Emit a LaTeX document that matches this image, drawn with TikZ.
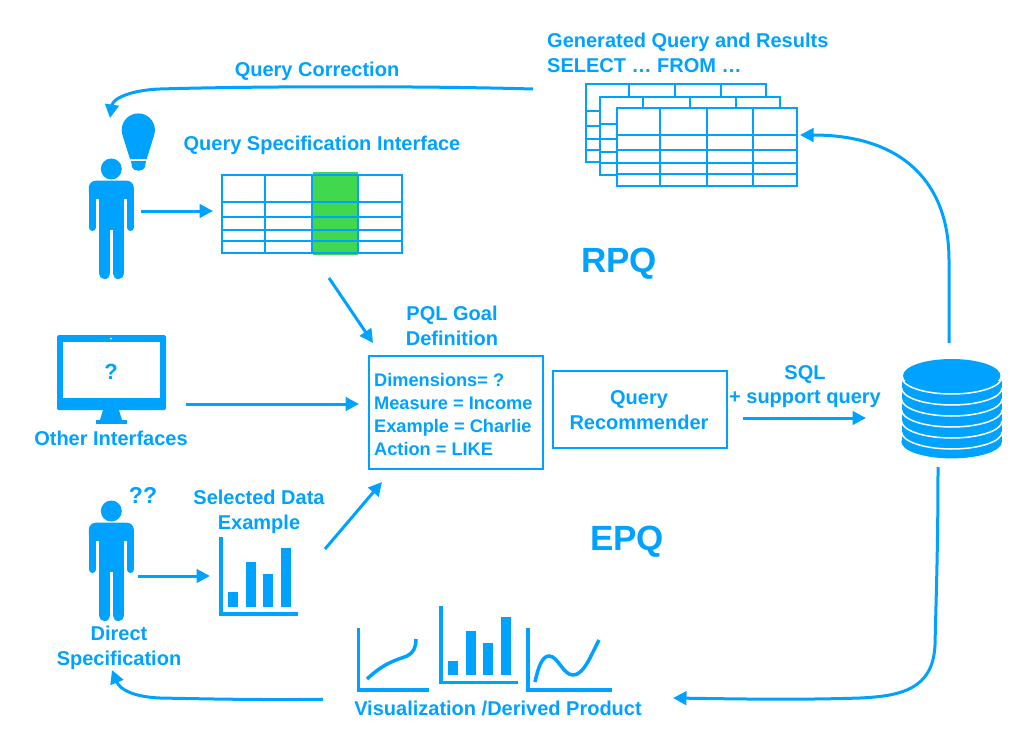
\documentclass[tikz,border=0pt]{standalone}
\usepackage{fontspec}
\setmainfont{Liberation Sans}
\usetikzlibrary{arrows.meta}
\definecolor{appblue}{HTML}{00A2FF}
\definecolor{cellgreen}{HTML}{41D84E}
\tikzset{
  lbl/.style={text=appblue,font=\bfseries\fontsize{20}{22}\selectfont,inner sep=0pt,text height=16pt,text depth=2pt},
  lblleft/.style={lbl,anchor=west},
  smalll/.style={lblleft,font=\bfseries\fontsize{18.2}{20}\selectfont},
  bigl/.style={text=appblue,font=\bfseries\fontsize{35}{38}\selectfont,inner sep=0pt,text height=26pt,text depth=0pt},
  conn/.style={draw=appblue,line width=3pt,-{Triangle[length=13.5pt,width=13.5pt]}},
  boxed/.style={draw=appblue,line width=2pt,inner sep=0pt,outer sep=0pt,anchor=north west},
  grid/.style={draw=appblue,line width=2pt},
  axisl/.style={draw=appblue,line width=3.4pt},
  curvel/.style={draw=appblue,line width=3.5pt},
  icon/.style={fill=appblue},
}
\newcommand{\tbl}[3]{%
  \begin{scope}[shift={(#1,#2)}]
    \fill[#3] (0,0) rectangle (180,78);
    \draw[grid] (0,0) rectangle (180,78);
    \foreach \xx in {43,89.5,135.5} \draw[grid] (\xx,0) -- (\xx,78);
    \foreach \yy in {27,41.5,55,66} \draw[grid] (0,\yy) -- (180,\yy);
  \end{scope}}
\newcommand{\person}[2]{%
  \begin{scope}[shift={(#1,#2)}]
    \fill[icon] (0,0) circle (10.5);
    \fill[icon,rounded corners=7pt] (-22.5,30) |- (22.5,11.7) -- (22.5,30) -- cycle;
    \fill[icon] (-12.5,20) rectangle (12.5,61);
    \draw[appblue,line width=7pt,line cap=round] (-19,22) -- (-19,58.5);
    \draw[appblue,line width=7pt,line cap=round] (19,22) -- (19,58.5);
    \draw[appblue,line width=11.2pt,line cap=round] (-6.7,55) -- (-6.7,104.5);
    \draw[appblue,line width=11.2pt,line cap=round] (7.1,55) -- (7.1,104.5);
  \end{scope}}
\newcommand{\barchart}[2]{%
  \begin{scope}[shift={(#1,#2)}]
    \draw[axisl] (221,537.3) -- (221,614) -- (298,614);
    \fill[icon] (228,592) rectangle (238,606.7);
    \fill[icon] (246,562) rectangle (256,606.7);
    \fill[icon] (263.3,574) rectangle (273.3,606.7);
    \fill[icon] (281,548) rectangle (291,606.7);
  \end{scope}}
\begin{document}
\begin{tikzpicture}[x=1pt,y=-1pt]
\useasboundingbox (0,0) rectangle (1010,739);
% tables
\tbl{585.5}{84}{white}
\tbl{600}{97}{white}
\tbl{617}{108}{white}
\fill[cellgreen] (312.5,172) rectangle (358,255);
\tbl{222}{175}{white,opacity=0}
% persons
\person{111.3}{169}
\person{111.3}{511}
% bulb
\fill[icon] (138.3,130) circle (16.6);
\fill[icon] (122.6,135.5) -- (154,135.5) -- (146.7,159) -- (130,159) -- cycle;
\fill[icon] (131,161) -- (146,161) -- (145,167) .. controls (144,172) and (133,172) .. (132,167) -- cycle;
% monitor
\fill[icon,rounded corners=1.5pt] (57,335) rectangle (166,410);
\fill[white] (62.7,342) rectangle (160,398);
\fill[white] (111,338.5) circle (1);
\fill[icon] (103,410) -- (119,410) -- (122,420) -- (100,420) -- cycle;
\fill[icon] (96,420) rectangle (127,424);
% database
\fill[icon] (901.5,381) rectangle (1002,441.7);
\fill[icon] (951.7,441.7) ellipse[x radius=50.3,y radius=16.7];
\foreach \ii in {0,1,...,5}
  \draw[white,line width=1.5pt] (901.5,377+11*\ii) arc[start angle=180,end angle=0,x radius=50.3,y radius=17];
\fill[icon] (951.7,375.7) ellipse[x radius=48.7,y radius=16.7];
% charts
\barchart{0}{0}
\barchart{220}{68.5}
\draw[axisl] (358.3,628) -- (358.3,690) -- (429,690);
\draw[axisl] (528,628) -- (528,690) -- (612,690);
\draw[curvel] (367,679) .. controls (385,662) and (397,660) .. (407,656) .. controls (413,653) and (416,648) .. (416,639);
\draw[curvel] (535,682) .. controls (538,668) and (542,656) .. (549,656) .. controls (558,656) and (563,675) .. (573,675) .. controls (584,675) and (591,655) .. (599,640);
% boxes
\node[boxed,minimum width=174pt,minimum height=113pt] (goal) at (369,356) {};
\node[boxed,minimum width=174pt,minimum height=77pt] (rec) at (553,371) {};
% labels
\node[lblleft] (gen1) at (547,40) {Generated Query and Results};
\node[lblleft] (gen2) at (547,65) {SELECT … FROM …};
\node[lbl] (corr) at (317,69) {Query Correction};
\node[lbl] (spec) at (322,143) {Query Specification Interface};
\node[bigl] (rpq) at (619,259) {RPQ};
\node[bigl] (epq) at (627,537) {EPQ};
\node[lbl] (pql1) at (452,313) {PQL Goal};
\node[lbl] (pql2) at (452,338) {Definition};
\node[smalll] (d1) at (374,379) {Dimensions= ?};
\node[smalll] (d2) at (374,402) {Measure = Income};
\node[smalll] (d3) at (374,425) {Example = Charlie};
\node[smalll] (d4) at (374,448) {Action = LIKE};
\node[lbl] (r1) at (639,397) {Query};
\node[lbl] (r2) at (639,422) {Recommender};
\node[lbl] (sql1) at (805,372) {SQL};
\node[lbl] (sql2) at (805,396) {+ support query};
\node[lbl] (oth) at (111,438) {Other Interfaces};
\node[lbl,font=\bfseries\fontsize{22}{24}\selectfont] (qm) at (111,372) {?};
\node[lbl,font=\bfseries\fontsize{23}{25}\selectfont] (qq) at (143,496) {??};
\node[lbl] (sel1) at (259,497) {Selected Data};
\node[lbl] (sel2) at (259,522) {Example};
\node[lbl] (dir1) at (119,633) {Direct};
\node[lbl] (dir2) at (119,658) {Specification};
\node[lbl] (vis) at (498,708) {Visualization /Derived Product};
% connector ends
\coordinate (a1) at (533,89);   \coordinate (a2) at (110,118);
\coordinate (b1) at (141,211);  \coordinate (b2) at (213,211);
\coordinate (c1) at (329,278);  \coordinate (c2) at (373,343);
\coordinate (d1c) at (186,404); \coordinate (d2c) at (359,404);
\coordinate (e1) at (325,549);  \coordinate (e2) at (382,482);
\coordinate (f1) at (138,576);  \coordinate (f2) at (210,576);
\coordinate (g1) at (743,418);  \coordinate (g2) at (866,418);
\coordinate (h1) at (949,343);  \coordinate (h2) at (800,135);
\coordinate (i1) at (938,467);  \coordinate (i2) at (673,698);
\coordinate (j1) at (323,699.3);\coordinate (j2) at (112,670);
% connectors
\draw[conn] (a1) .. controls (430,86) and (260,86) .. (160,89) .. controls (132,90) and (113,98) .. (a2);
\draw[conn] (b1) -- (b2);
\draw[conn] (c1) -- (c2);
\draw[conn] (d1c) -- (d2c);
\draw[conn] (e1) -- (e2);
\draw[conn] (f1) -- (f2);
\draw[conn] (g1) -- (g2);
\draw[conn] (h1) -- (949,260) .. controls (949,185) and (905,135) .. (h2);
\draw[conn] (i1) .. controls (938,550) and (936,600) .. (935,645) .. controls (933,690) and (900,696) .. (860,698) .. controls (800,700) and (740,699) .. (i2);
\draw[conn] (j1) .. controls (260,700) and (210,699) .. (160,698) .. controls (135,697) and (120,690) .. (j2);
\end{tikzpicture}
\end{document}
